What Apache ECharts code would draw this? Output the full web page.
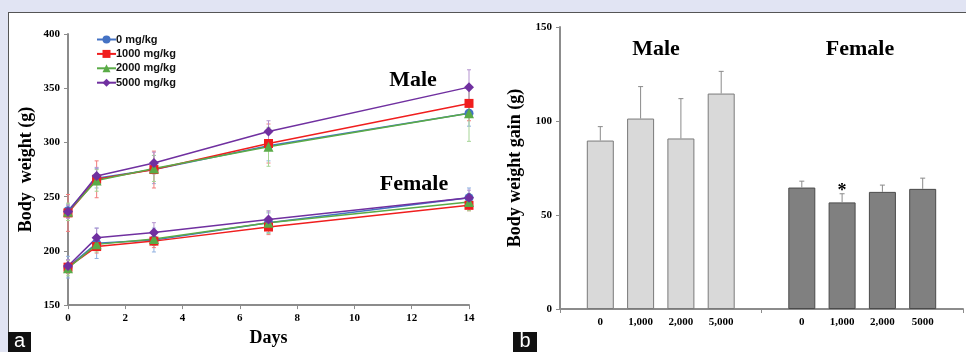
<!DOCTYPE html>
<html>
<head>
<meta charset="utf-8">
<script src="https://cdn.jsdelivr.net/npm/echarts@6/dist/echarts.min.js"></script>
<style>
  html, body { margin: 0; padding: 0; background: #e1e4f3; }
  #frame { position: absolute; left: 8px; top: 12px; width: 958px; height: 340px; background: #fff;
           border-left: 1px solid #555; border-top: 1px solid #555; }
  #chart { position: absolute; left: 0; top: 0; width: 966px; height: 352px; }
</style>
</head>
<body>
<div id="frame"></div>
<div id="chart"></div>
<script>
// panel a: body weight over time
const days = [0, 1, 3, 7, 14];
const doses = ['0 mg/kg', '1000 mg/kg', '2000 mg/kg', '5000 mg/kg'];
const maleMean0 = [237, 267, 275, 297, 327];
const maleMean1000 = [235, 266, 275, 299, 336];
const maleMean2000 = [236, 265, 276, 296, 327];
const maleMean5000 = [236, 269, 281, 310, 351];
const maleSd0 = [6, 9, 13, 14, 12];
const maleSd1000 = [17, 17, 17, 18, 16];
const maleSd2000 = [8, 10, 12, 18, 26];
const maleSd5000 = [6, 8, 10, 10, 16];
const femaleMean0 = [185, 207, 210, 226, 249];
const femaleMean1000 = [185, 204, 209, 222, 242];
const femaleMean2000 = [184, 206, 211, 226, 245];
const femaleMean5000 = [186, 212, 217, 229, 249];
const femaleSd0 = [10, 14, 11, 9, 9];
const femaleSd1000 = [6, 6, 6, 7, 5];
const femaleSd2000 = [7, 7, 6, 10, 8];
const femaleSd5000 = [6, 9, 9, 8, 7];

// panel b: body weight gain
const gainLabels = ['', '0', '1,000', '2,000', '5,000', '', '0', '1,000', '2,000', '5000', ''];
const maleGain = [89.6, 101.3, 90.7, 114.6];
const maleGainSd = [7.4, 17, 21.2, 11.8];
const femaleGain = [64.6, 56.7, 62.3, 63.9];
const femaleGainSd = [3.4, 4.6, 3.6, 5.7];
const femaleSig = ['', '*', '', ''];

const colors = ['#4472c4', '#f01e1e', '#5aab47', '#7030a0'];
const errColors = ['#8fb0e0', '#f27c7c', '#a6d596', '#b493cf'];
const symbols = ['circle', 'rect', 'triangle', 'diamond'];
const sizes = [9, 9, 10, 10];
const serif = '"Liberation Serif", "DejaVu Serif", serif';

const maleMeans = [maleMean0, maleMean1000, maleMean2000, maleMean5000];
const maleSds = [maleSd0, maleSd1000, maleSd2000, maleSd5000];
const femaleMeans = [femaleMean0, femaleMean1000, femaleMean2000, femaleMean5000];
const femaleSds = [femaleSd0, femaleSd1000, femaleSd2000, femaleSd5000];

function lineErr(params, api) {
    const x = api.value(0), m = api.value(1), sd = api.value(2);
    const hi = api.coord([x, m + sd]);
    const lo = api.coord([x, m - sd]);
    const st = { stroke: api.visual('color'), lineWidth: 1 };
    return {
        type: 'group', children: [
            { type: 'line', shape: { x1: hi[0], y1: hi[1], x2: lo[0], y2: lo[1] }, style: st },
            { type: 'line', shape: { x1: hi[0] - 2, y1: hi[1], x2: hi[0] + 2, y2: hi[1] }, style: st },
            { type: 'line', shape: { x1: lo[0] - 2, y1: lo[1], x2: lo[0] + 2, y2: lo[1] }, style: st }
        ]
    };
}

// padded arrays for the 11-slot category axis
function pad(arr, start) {
    const out = gainLabels.map(() => null);
    arr.forEach((v, i) => { out[start + i] = v; });
    return out;
}
const errData = [];
const sigList = [];
maleGain.forEach((v, i) => { errData.push([1 + i, v, maleGainSd[i]]); sigList.push(''); });
femaleGain.forEach((v, i) => { errData.push([6 + i, v, femaleGainSd[i]]); sigList.push(femaleSig[i]); });

function barErr(params, api) {
    const x = api.value(0), m = api.value(1), sd = api.value(2);
    const top = api.coord([x, m]);
    const hi = api.coord([x, m + sd]);
    const st = { stroke: '#8a8a8a', lineWidth: 1 };
    const kids = [
        { type: 'line', shape: { x1: top[0], y1: top[1], x2: hi[0], y2: hi[1] }, style: st },
        { type: 'line', shape: { x1: hi[0] - 2.5, y1: hi[1], x2: hi[0] + 2.5, y2: hi[1] }, style: st }
    ];
    const sig = sigList[params.dataIndex];
    if (sig) {
        kids.push({ type: 'text', x: hi[0], y: hi[1] + 7,
            style: { text: sig, fill: '#000', font: 'bold 18px ' + serif, align: 'center', verticalAlign: 'bottom' } });
    }
    return { type: 'group', children: kids };
}

const series = [];
[[maleMeans, maleSds], [femaleMeans, femaleSds]].forEach(([means, sds]) => {
    means.forEach((vals, k) => {
        series.push({
            type: 'custom', xAxisIndex: 0, yAxisIndex: 0, z: 1, silent: true,
            itemStyle: { color: errColors[k] },
            renderItem: lineErr,
            data: days.map((d, i) => [d, vals[i], sds[k][i]])
        });
    });
});
[maleMeans, femaleMeans].forEach((means) => {
    means.forEach((vals, k) => {
        series.push({
            name: doses[k], type: 'line', xAxisIndex: 0, yAxisIndex: 0, z: 3,
            symbol: symbols[k], symbolSize: sizes[k],
            itemStyle: { color: colors[k] },
            lineStyle: { color: colors[k], width: 1.5 },
            data: days.map((d, i) => [d, vals[i]])
        });
    });
});

series.push({
    type: 'bar', xAxisIndex: 1, yAxisIndex: 1, barWidth: 27, barGap: '-100%',
    itemStyle: { color: '#d9d9d9', borderColor: '#7a7a7a', borderWidth: 1 },
    data: pad(maleGain, 1)
});
series.push({
    type: 'bar', xAxisIndex: 1, yAxisIndex: 1, barWidth: 27, barGap: '-100%',
    itemStyle: { color: '#808080', borderColor: '#4a4a4a', borderWidth: 1 },
    data: pad(femaleGain, 6)
});
series.push({
    type: 'custom', xAxisIndex: 1, yAxisIndex: 1, z: 4, silent: true,
    renderItem: barErr, data: errData
});

const axisLine = { lineStyle: { color: '#8c8c8c', width: 2 } };
const tickLbl = { color: '#000', fontFamily: serif, fontWeight: 'bold', fontSize: 11 };
const nameStyle = { color: '#000', fontFamily: serif, fontWeight: 'bold', fontSize: 18 };

const chart = echarts.init(document.getElementById('chart'));
chart.setOption({
    animation: false,
    grid: [
        { left: 68, right: 497, top: 34, bottom: 44 },
        { left: 560, right: 2, top: 27, bottom: 43 }
    ],
    legend: {
        data: doses, orient: 'vertical', left: 96, top: 33, padding: 0,
        itemWidth: 19, itemHeight: 10, itemGap: 1.4,
        textStyle: { color: '#111', fontFamily: '"Liberation Sans", Arial, sans-serif', fontWeight: 'bold',
                     fontSize: 11, lineHeight: 13, padding: [0, 0, 0, -5] }
    },
    xAxis: [
        {
            type: 'value', gridIndex: 0, min: 0, max: 14, interval: 2,
            name: 'Days', nameLocation: 'middle', nameGap: 18, nameTextStyle: nameStyle,
            axisLine: axisLine, splitLine: { show: false },
            axisTick: { show: true, length: 4, lineStyle: { color: '#8c8c8c' } },
            axisLabel: Object.assign({ margin: 8 }, tickLbl)
        },
        {
            type: 'category', gridIndex: 1, data: gainLabels, boundaryGap: false,
            axisLine: axisLine, splitLine: { show: false },
            axisTick: { show: true, length: 4, interval: (i) => i % 5 === 0, lineStyle: { color: '#8c8c8c' } },
            axisLabel: Object.assign({ margin: 8, interval: 0 }, tickLbl)
        }
    ],
    yAxis: [
        {
            type: 'value', gridIndex: 0, min: 150, max: 400, interval: 50,
            name: 'Body  weight (g)', nameLocation: 'middle', nameGap: 33, nameTextStyle: nameStyle,
            axisLine: Object.assign({ show: true }, axisLine), splitLine: { show: false },
            axisTick: { show: true, length: 4, lineStyle: { color: '#8c8c8c' } },
            axisLabel: Object.assign({ margin: 8 }, tickLbl)
        },
        {
            type: 'value', gridIndex: 1, min: 0, max: 150, interval: 50,
            name: 'Body weight gain (g)', nameLocation: 'middle', nameGap: 36, nameTextStyle: nameStyle,
            axisLine: Object.assign({ show: true }, axisLine), splitLine: { show: false },
            axisTick: { show: true, length: 4, lineStyle: { color: '#8c8c8c' } },
            axisLabel: Object.assign({ margin: 8 }, tickLbl)
        }
    ],
    graphic: [
        { type: 'text', x: 413, y: 80, style: { text: 'Male', font: 'bold 22px ' + serif, fill: '#000', align: 'center', verticalAlign: 'middle' } },
        { type: 'text', x: 414, y: 184, style: { text: 'Female', font: 'bold 22px ' + serif, fill: '#000', align: 'center', verticalAlign: 'middle' } },
        { type: 'text', x: 656, y: 49, style: { text: 'Male', font: 'bold 22px ' + serif, fill: '#000', align: 'center', verticalAlign: 'middle' } },
        { type: 'text', x: 860, y: 49, style: { text: 'Female', font: 'bold 22px ' + serif, fill: '#000', align: 'center', verticalAlign: 'middle' } },
        { type: 'rect', shape: { x: 8, y: 332, width: 23, height: 20 }, style: { fill: '#111' } },
        { type: 'text', x: 19.5, y: 341, style: { text: 'a', font: '20px "Liberation Sans", Arial, sans-serif', fill: '#fff', align: 'center', verticalAlign: 'middle' } },
        { type: 'rect', shape: { x: 513, y: 332, width: 24, height: 20 }, style: { fill: '#111' } },
        { type: 'text', x: 525, y: 341, style: { text: 'b', font: '20px "Liberation Sans", Arial, sans-serif', fill: '#fff', align: 'center', verticalAlign: 'middle' } }
    ],
    series: series
});
</script>
</body>
</html>
